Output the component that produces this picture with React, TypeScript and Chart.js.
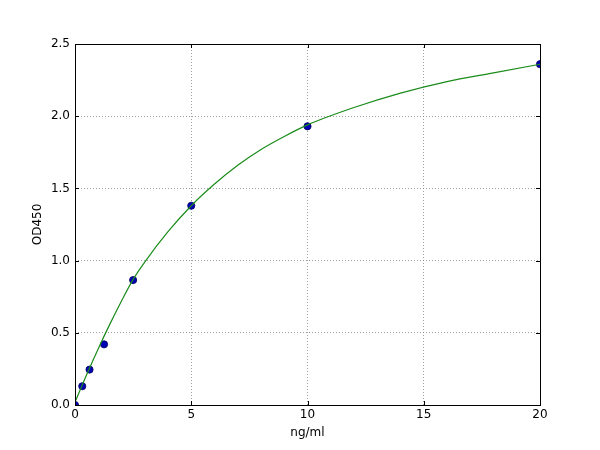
import { Chart, registerables } from "chart.js";
import React, { useEffect, useRef } from "react";

Chart.register(...registerables);

// standard points
const concentrations = [0, 0.3125, 0.625, 1.25, 2.5, 5, 10, 20];
const odValues = [0.0, 0.13, 0.245, 0.42, 0.865, 1.38, 1.93, 2.36];

// fitted curve
const fitX = [0, 0.5, 1, 1.5, 2, 2.5, 3, 4, 5, 6, 7, 8, 9, 10, 12, 14, 16, 18, 20];
const fitY = [0.02, 0.21, 0.39, 0.56, 0.72, 0.87, 0.99, 1.2, 1.38, 1.53, 1.66, 1.77, 1.86, 1.94, 2.06, 2.16, 2.24, 2.3, 2.36];

const xTicks = [0, 5, 10, 15, 20];
const yTicks = [0, 0.5, 1.0, 1.5, 2.0, 2.5];

const frame = {
  id: "frame",
  afterDatasetsDraw(chart: Chart) {
    const { ctx, chartArea: a, scales } = chart;
    ctx.save();
    ctx.strokeStyle = "#000";
    ctx.lineWidth = 1;
    ctx.beginPath();
    for (const v of xTicks) {
      const px = Math.round(scales.x.getPixelForValue(v)) + 0.5;
      ctx.moveTo(px, a.bottom);
      ctx.lineTo(px, a.bottom - 4);
      ctx.moveTo(px, a.top);
      ctx.lineTo(px, a.top + 4);
    }
    for (const v of yTicks) {
      const py = Math.round(scales.y.getPixelForValue(v)) + 0.5;
      ctx.moveTo(a.left, py);
      ctx.lineTo(a.left + 4, py);
      ctx.moveTo(a.right, py);
      ctx.lineTo(a.right - 4, py);
    }
    ctx.stroke();
    ctx.strokeRect(Math.round(a.left) + 0.5, Math.round(a.top) + 0.5, Math.round(a.right - a.left), Math.round(a.bottom - a.top));
    ctx.restore();
  },
};

const StandardCurve: React.FC = () => {
  const chartRef = useRef<HTMLCanvasElement>(null);

  useEffect(() => {
    document.body.style.margin = "0";
    Chart.defaults.font.family = "'DejaVu Sans', sans-serif";
    Chart.defaults.font.size = 12;
    Chart.defaults.color = "#000";
    let chartInstance: Chart | null = null;
    if (chartRef.current) {
      chartInstance = new Chart(chartRef.current, {
        type: "scatter",
        data: {
          datasets: [
            {
              type: "line",
              data: fitX.map((x, i) => ({ x, y: fitY[i] })),
              borderColor: "#1a8c1a",
              borderWidth: 1.2,
              pointRadius: 0,
              cubicInterpolationMode: "monotone",
              fill: false,
              clip: 0,
            },
            {
              data: concentrations.map((x, i) => ({ x, y: odValues[i] })),
              backgroundColor: "#0000b4",
              borderColor: "#000064",
              borderWidth: 0.8,
              pointRadius: 3.6,
              clip: 0,
            },
          ],
        },
        options: {
          responsive: false,
          animation: false,
          layout: { padding: { left: 0, right: 60, top: 44, bottom: 0 } },
          plugins: { legend: { display: false }, tooltip: { enabled: false } },
          scales: {
            x: {
              type: "linear",
              min: 0,
              max: 20,
              afterBuildTicks: (s: any) => {
                s.ticks = xTicks.map((value) => ({ value }));
              },
              afterFit: (s: any) => {
                s.height = 45;
              },
              ticks: { padding: 3, font: { size: 12 } },
              grid: { color: "#888", drawTicks: false, lineWidth: 0.8 },
              border: { display: false, dash: [1, 2] },
              title: { display: true, text: "ng/ml", font: { size: 12 }, padding: { top: 0, bottom: 10 } },
            },
            y: {
              type: "linear",
              min: 0,
              max: 2.5,
              afterBuildTicks: (s: any) => {
                s.ticks = yTicks.map((value) => ({ value }));
              },
              afterFit: (s: any) => {
                s.width = 75;
              },
              ticks: { padding: 5, font: { size: 12 }, callback: (v: any) => Number(v).toFixed(1) },
              grid: { color: "#888", drawTicks: false, lineWidth: 0.8 },
              border: { display: false, dash: [1, 2] },
              title: { display: true, text: "OD450", font: { size: 12 }, padding: { top: 31, bottom: 0 } },
            },
          },
        },
        plugins: [frame],
      });
    }
    return () => {
      if (chartInstance) {
        chartInstance.destroy();
      }
    };
  }, []);

  return (
    <div style={{ width: 600, height: 450, background: "#fff" }}>
      <canvas ref={chartRef} width={600} height={450}></canvas>
    </div>
  );
};

export default function App() {
  return <StandardCurve />;
}
